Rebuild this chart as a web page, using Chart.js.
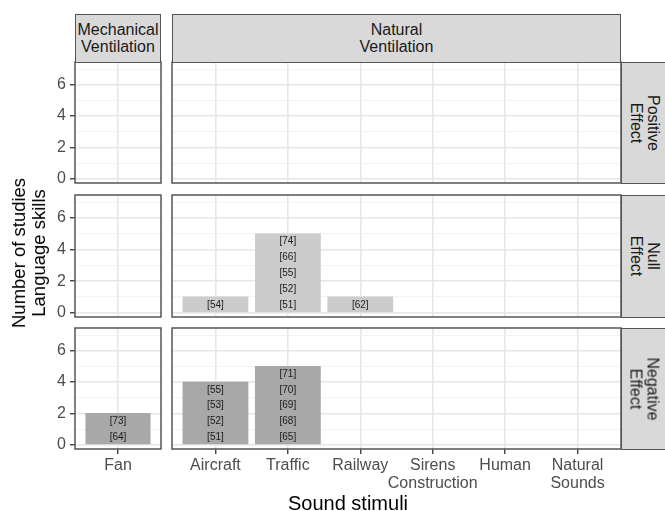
<!DOCTYPE html>
<html><head><meta charset="utf-8">
<script src="https://cdn.jsdelivr.net/npm/chart.js@4.4.1/dist/chart.umd.min.js"></script>
<style>
html,body{margin:0;padding:0;background:#fff;}
#root{position:relative;width:665px;height:511px;overflow:hidden;font-family:"Liberation Sans",Arial,sans-serif;}
canvas{position:absolute;}
.strip{position:absolute;box-sizing:border-box;background:#d9d9d9;border:1.5px solid #555;}
.txt{position:absolute;text-align:center;white-space:nowrap;}
</style></head><body><div id="root"></div>
<script>
// ---------- data ----------
const columnNames = [['Mechanical','Ventilation'], ['Natural','Ventilation']];
const rowNames = [['Positive','Effect'], ['Null','Effect'], ['Negative','Effect']];
const mechCategories = ['Fan'];
const naturalCategories = ['Aircraft','Traffic','Railway',['Sirens','Construction'],'Human',['Natural','Sounds']];
const yTickLabels = [0,2,4,6];
const yMinorTicks = [1,3,5,7];

const positiveMechCounts = [0];
const positiveNaturalCounts = [0,0,0,0,0,0];
const nullMechCounts = [0];
const nullNaturalCounts = [1,5,1,0,0,0];
const negativeMechCounts = [2];
const negativeNaturalCounts = [4,5,0,0,0,0];

const positiveMechStudies = [[]];
const positiveNaturalStudies = [[],[],[],[],[],[]];
const nullMechStudies = [[]];
const nullNaturalStudies = [['[54]'], ['[51]','[52]','[55]','[66]','[74]'], ['[62]'], [], [], []];
const negativeMechStudies = [['[64]','[73]']];
const negativeNaturalStudies = [['[51]','[52]','[53]','[55]'], ['[65]','[68]','[69]','[70]','[71]'], [], [], [], []];

const xTitle = ['Sound stimuli'];
const yTitle = ['Number of studies','Language skills'];

// ---------- layout / style ----------
const FONT = '"Liberation Sans", Arial, sans-serif';
const COLS = [{left:75, width:86}, {left:172, width:449}];
const ROWS = [{top:62, height:121}, {top:195, height:122}, {top:328, height:121}];
const STRIP_TOP = 14, STRIP_W = 48;
const Y_MIN = -0.27, Y_MAX = 7.45;
const Y_AXIS_W = 36, X_AXIS_H = 46, PAD = 2;
const BAR_WIDTH = 0.9;
const effectColours = ['#e3e3e3', '#cccccc', '#a8a8a8'];
const GRID_MAJOR = '#e6e6e6', GRID_MINOR = '#f0f0f0';
const BORDER_COL = '#555555', AXIS_COL = '#333333', TICK_COL = '#4d4d4d', LABEL_COL = '#1a1a1a';

const categoriesByCol = [mechCategories, naturalCategories];
const countsByRowCol = [[positiveMechCounts, positiveNaturalCounts],[nullMechCounts, nullNaturalCounts],[negativeMechCounts, negativeNaturalCounts]];
const studiesByRowCol = [[positiveMechStudies, positiveNaturalStudies],[nullMechStudies, nullNaturalStudies],[negativeMechStudies, negativeNaturalStudies]];

const root = document.getElementById('root');

function addText(lines, cx, cy, size, lh, rot, color){
  const d = document.createElement('div');
  d.className = 'txt';
  d.style.left = cx+'px'; d.style.top = cy+'px';
  d.style.fontSize = size+'px'; d.style.lineHeight = lh+'px'; d.style.color = color;
  d.style.transform = 'translate(-50%,-50%) rotate('+rot+'deg)';
  lines.forEach((l,i)=>{ if(i) d.appendChild(document.createElement('br')); d.appendChild(document.createTextNode(l)); });
  root.appendChild(d);
}
function addStrip(left, top, w, h){
  const s = document.createElement('div');
  s.className = 'strip';
  s.style.left = left+'px'; s.style.top = top+'px'; s.style.width = w+'px'; s.style.height = h+'px';
  root.appendChild(s);
}

const isMajor = v => yTickLabels.includes(v);
const yGridValues = yTickLabels.concat(yMinorTicks).sort((a,b)=>a-b);

const panelPlugin = {
  id:'panel',
  afterDatasetsDraw(chart){
    const {ctx, chartArea:a} = chart;
    const y = chart.scales.y;
    ctx.save();
    ctx.font = '10px ' + FONT; ctx.fillStyle = LABEL_COL; ctx.textAlign = 'center'; ctx.textBaseline = 'middle';
    chart.data.datasets.forEach((ds, di) => {
      const meta = chart.getDatasetMeta(di);
      meta.data.forEach((el, j) => {
        (ds.data[j].studies || []).forEach((s, k) => ctx.fillText(s, el.x, y.getPixelForValue(k + 0.5)));
      });
    });
    ctx.strokeStyle = BORDER_COL; ctx.lineWidth = 1.5;
    ctx.strokeRect(a.left, a.top, a.right - a.left, a.bottom - a.top);
    ctx.restore();
  }
};

function zeroPad(s){ s.paddingLeft = 0; s.paddingRight = 0; s.paddingTop = 0; s.paddingBottom = 0; }

function makePanel(r, c){
  const col = COLS[c], row = ROWS[r];
  const hasY = c === 0, hasX = r === ROWS.length - 1;
  const yW = hasY ? Y_AXIS_W : 0, xH = hasX ? X_AXIS_H : 0;
  const w = yW + col.width + 2*PAD, h = row.height + xH + 2*PAD;
  const canvas = document.createElement('canvas');
  canvas.width = w; canvas.height = h;
  canvas.style.left = (col.left - yW - PAD) + 'px';
  canvas.style.top = (row.top - PAD) + 'px';
  canvas.style.width = w + 'px'; canvas.style.height = h + 'px';
  root.appendChild(canvas);
  const cats = categoriesByCol[c];
  const counts = countsByRowCol[r][c];
  const studies = studiesByRowCol[r][c];
  const points = counts.map((n, i) => ({x: i + 1, y: n, studies: studies[i]})).filter(p => p.y > 0);
  const chart = new Chart(canvas, {
    type: 'bar',
    data: { datasets: [{ data: points, backgroundColor: effectColours[r], borderWidth: 0 }] },
    options: {
      responsive: false, animation: false, devicePixelRatio: 1, events: [],
      layout: { padding: PAD },
      plugins: { legend: {display: false}, tooltip: {enabled: false} },
      scales: {
        x: {
          type: 'linear', min: 0.4, max: cats.length + 0.6, offset: false,
          afterBuildTicks: s => { s.ticks = cats.map((_, i) => ({value: i + 1})); },
          afterFit: s => { s.height = xH; zeroPad(s); },
          grid: { offset: false, color: GRID_MAJOR, lineWidth: 1.5, drawTicks: hasX, tickLength: 5, tickColor: AXIS_COL, tickWidth: 1.3 },
          border: { display: false },
          ticks: { display: hasX, autoSkip: false, maxRotation: 0, minRotation: 0, padding: 3, color: TICK_COL,
                   font: { family: FONT, size: 16, lineHeight: 1.125 },
                   callback: v => cats[Math.round(v) - 1] }
        },
        y: {
          type: 'linear', min: Y_MIN, max: Y_MAX,
          afterBuildTicks: s => { s.ticks = yGridValues.map(v => ({value: v})); },
          afterFit: s => { s.width = yW; zeroPad(s); },
          grid: {
            color: ctx => (ctx.tick && isMajor(ctx.tick.value)) ? GRID_MAJOR : GRID_MINOR,
            lineWidth: ctx => (ctx.tick && isMajor(ctx.tick.value)) ? 1.5 : 0.8,
            drawTicks: hasY, tickLength: 5,
            tickColor: ctx => (ctx.tick && isMajor(ctx.tick.value)) ? AXIS_COL : 'rgba(0,0,0,0)',
            tickWidth: 1.3
          },
          border: { display: false },
          ticks: { display: hasY, autoSkip: false, padding: 4, color: TICK_COL, font: { family: FONT, size: 16 },
                   callback: v => isMajor(v) ? String(v) : '' }
        }
      }
    },
    plugins: [panelPlugin]
  });
  const xs = chart.scales.x;
  const unit = Math.abs(xs.getPixelForValue(2) - xs.getPixelForValue(1));
  chart.data.datasets.forEach(d => { d.barThickness = unit * BAR_WIDTH; });
  chart.update('none');
}

for (let r = 0; r < ROWS.length; r++) for (let c = 0; c < COLS.length; c++) makePanel(r, c);

// strips
COLS.forEach((col, c) => {
  addStrip(col.left, STRIP_TOP, col.width, ROWS[0].top - STRIP_TOP + 1);
  addText(columnNames[c], col.left + col.width/2, (STRIP_TOP + ROWS[0].top)/2, 16, 16.5, 0, '#1a1a1a');
});
const rightEdge = COLS[COLS.length-1].left + COLS[COLS.length-1].width;
ROWS.forEach((row, r) => {
  addStrip(rightEdge, row.top, STRIP_W, row.height + 1);
  addText(rowNames[r], rightEdge + STRIP_W/2 - 1, row.top + row.height/2, 16, 16.5, 90, '#1a1a1a');
});

// axis titles
const plotMidX = (COLS[0].left + rightEdge) / 2;
const lastRow = ROWS[ROWS.length-1];
addText(xTitle, plotMidX, 503, 20, 22, 0, '#000');
addText(yTitle, 29, (ROWS[0].top + lastRow.top + lastRow.height)/2 - 3, 18.5, 20, -90, '#000');
</script></body></html>
